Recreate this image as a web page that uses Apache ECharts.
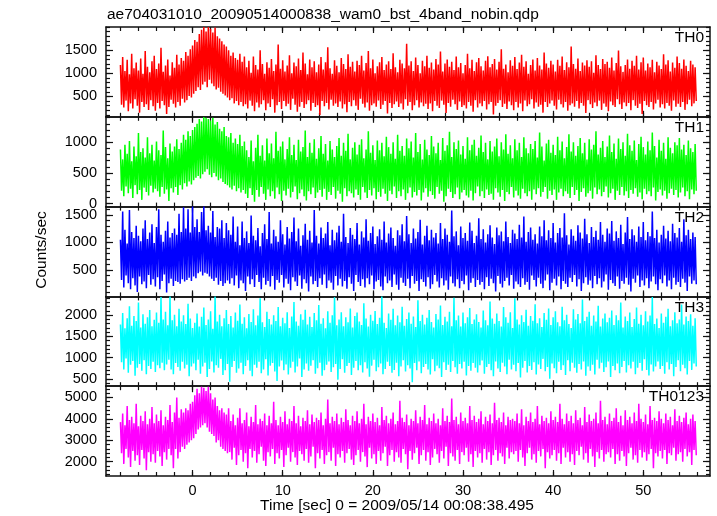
<!DOCTYPE html>
<html><head><meta charset="utf-8">
<script src="https://cdn.jsdelivr.net/npm/echarts@6/dist/echarts.min.js"></script>
<style>html,body{margin:0;padding:0;background:#fff}#c{width:717px;height:516px}</style>
</head><body><div id="c"></div>
<script>
// ---- data (counts/sec); bins start at T0 and are DT seconds apart ----
const T0 = -8, DT = 0.125;
const th0 = [
1180,320,1350,260,1050,410,1290,180,980,350,1420,240,1110,440,1230,300,
1060,150,1320,380,990,270,1480,330,1140,210,1020,420,1260,290,1380,190,
1090,360,1210,240,1550,400,1030,310,1170,120,1300,270,950,430,1240,340,
1120,260,1400,380,1190,300,1330,450,1270,370,1460,420,1380,510,1520,480,
1600,560,1720,620,1680,700,1850,640,1940,760,2000,820,1900,700,2000,860,
1960,780,1880,720,1990,650,1800,690,1750,600,1690,560,1620,520,1580,480,
1500,420,1380,460,1450,350,1330,400,1290,310,1420,380,1250,290,1360,330,
1130,240,1270,410,1010,300,1360,180,1180,370,1080,260,1500,330,1200,420,
990,200,1240,350,1120,270,1310,440,1050,150,1190,310,1620,380,1100,230,
1280,400,1040,290,1170,340,1390,210,1000,450,1230,320,1150,170,1320,280,
1070,380,1450,250,1210,330,980,420,1300,190,1130,360,1260,270,1020,310,
1190,100,1350,400,1080,290,1240,360,1560,220,1110,430,990,300,1280,350,
1160,270,1020,390,1330,240,1200,330,1090,160,1410,380,1140,290,1250,420,
1040,300,1270,210,1180,450,1380,340,1060,260,1220,370,1480,190,1110,310,
1300,350,1000,280,1150,410,1240,230,1350,320,1070,400,1190,130,1260,360,
1090,250,1430,330,1130,390,1020,270,1290,350,1210,220,1110,440,1640,300,
1170,380,1260,200,1050,310,1340,420,1180,260,1000,370,1270,290,1150,340,
1380,230,1120,350,1230,180,1080,400,1310,300,1190,250,1470,410,1040,320,
1210,140,1300,360,1140,280,1250,430,1070,330,1360,210,1130,390,1220,270,
1000,310,1180,240,1420,380,1110,300,1290,170,1050,420,1240,260,1330,350,
1150,290,1060,400,1270,220,1370,330,1130,380,1200,110,1310,300,1080,360,
1250,420,1520,270,1100,340,1190,230,1020,390,1280,310,1160,200,1350,380,
1090,260,1230,350,1400,180,1140,410,1260,290,990,330,1180,440,1300,240,
1060,370,1330,280,1170,320,1080,150,1450,380,1210,270,1120,350,1270,410,
1190,300,1040,220,1290,430,1160,330,1360,260,1070,380,1240,190,1130,310,
1580,350,1200,280,1100,400,1320,240,1050,360,1230,300,1170,140,1280,420,
1140,330,1260,250,1010,370,1390,290,1180,410,1090,210,1310,350,1200,280,
1250,180,1120,390,1340,310,1060,270,1220,440,1490,330,1150,230,1030,370,
1180,290,1300,360,1100,200,1270,420,1160,300,1380,250,1080,340,1240,120,
1340,400,1060,310,1210,270,1130,380,1290,220,1020,350,1250,430,1170,260,
1090,330,1410,240,1190,360,1280,300,1040,190,1230,410,1120,280,1360,340,
1220,270,1100,380,1300,210,1160,330,1050,430,1270,290,1190,350,1130,400];
const th1 = [
880,210,720,120,960,280,810,170,1020,240,690,90,930,300,770,150,
1150,220,840,60,900,260,750,190,1080,130,820,290,960,180,700,240,
1010,200,870,110,790,270,1190,160,920,230,740,40,980,250,850,180,
930,270,1050,140,890,300,990,230,1120,330,1040,280,1180,360,1100,310,
1200,380,1250,420,1300,450,1380,410,1340,480,1410,520,1400,560,1380,470,
1350,430,1400,500,1290,440,1330,380,1220,410,1180,350,1250,320,1100,300,
1080,260,1150,230,990,290,1060,200,970,250,1120,180,940,220,1010,160,
870,90,760,250,1030,140,690,30,910,220,1120,110,780,270,950,160,
700,60,1060,230,820,120,980,200,740,80,1170,260,860,150,930,40,
1010,210,720,130,890,240,1080,100,790,190,960,280,710,70,1040,170,
850,230,920,120,1190,50,760,200,990,150,830,260,1050,90,730,180,
900,220,1100,110,810,240,970,60,700,190,1020,140,880,270,760,80,
940,210,1070,160,780,30,990,250,860,120,1140,200,720,170,910,100,
1000,230,800,140,960,60,1050,270,740,180,880,90,1180,220,830,130,
950,250,710,70,1030,190,870,110,990,240,770,160,1090,40,920,210,
810,150,1000,280,730,90,1120,200,860,120,940,230,780,60,1060,170,
900,260,1010,100,750,190,1150,130,840,220,970,50,720,180,1040,250,
880,110,790,200,1100,140,930,80,820,270,990,160,710,210,1070,30,
860,120,950,240,1170,190,760,90,1000,150,890,260,1030,70,800,180,
940,220,730,130,1080,100,870,210,960,50,1040,170,780,280,910,120,
1110,200,840,90,990,230,720,140,1020,160,850,60,930,250,1060,180,
770,110,1000,220,880,40,1130,190,810,150,950,270,740,100,1050,210,
870,130,990,80,760,240,1080,170,900,120,820,200,970,60,890,230,
1020,150,750,250,1160,110,930,190,700,270,980,80,1040,210,830,140,
960,230,790,60,1090,180,870,240,1010,120,740,200,920,160,1130,90,
850,270,1000,140,780,220,940,40,1070,190,820,250,990,110,720,170,
1050,210,880,80,960,260,1180,150,800,230,910,120,1020,190,760,280,
930,100,1110,170,840,240,980,60,730,210,1060,140,890,270,1000,130,
780,200,1140,90,950,220,860,160,1030,250,710,110,970,180,1090,70,
920,240,800,150,1010,200,870,120,1160,260,940,50,750,190,1040,230,
860,130,990,210,730,80,1080,170,910,240,820,140,1000,220,950,100,
1070,180,880,260,960,120,790,200,1030,70,900,230,840,150,970,210];
const th2 = [
1050,320,1560,180,1230,400,980,260,1590,150,1190,350,1080,220,1300,100,
1120,380,1020,240,1250,290,1400,170,1060,410,1180,230,1330,330,990,200,
1280,370,1600,150,1140,300,1010,420,1210,90,1380,260,1090,340,1170,210,
1250,300,1140,280,1520,250,1190,330,1640,290,1250,320,1600,360,1180,300,
1650,380,1280,350,1420,440,1190,470,1550,400,1650,450,1220,430,1300,380,
1180,340,1570,300,1100,360,1280,230,1250,300,1400,210,1080,260,1350,310,
1220,250,1140,350,1470,220,1010,400,1290,170,950,310,1380,260,1080,120,
1200,380,990,240,1490,330,1120,190,1040,410,1260,280,930,150,1170,360,
1330,230,1060,300,1550,200,980,390,1230,140,1110,320,1010,270,1400,410,
1150,180,960,340,1280,250,1070,130,1190,370,1450,290,1020,210,1250,400,
940,160,1130,330,1340,260,1050,110,1210,380,1000,240,1590,300,1120,190,
980,350,1270,230,1080,420,1160,170,1370,310,950,270,1230,140,1040,390,
1180,220,1300,340,1010,200,1520,300,1100,160,990,370,1260,250,1140,120,
1060,410,1350,280,960,210,1200,330,1090,180,1420,350,1030,240,1170,400,
1290,150,970,290,1110,320,1240,200,1050,130,1380,380,1000,260,1160,310,
1270,190,1080,420,940,230,1220,140,1130,360,1330,270,1020,210,1480,340,
1150,170,990,390,1250,250,1070,300,1190,120,1410,330,960,280,1120,200,
1300,370,1040,160,1230,240,1090,410,1170,290,980,180,1350,350,1060,220,
1250,310,1140,140,1010,380,1580,260,1110,200,1200,330,950,170,1290,300,
1080,240,1170,400,1030,130,1360,270,1210,350,990,190,1120,320,1440,230,
1060,280,1240,150,1000,370,1150,210,1310,340,1090,260,970,110,1270,390,
1130,250,1200,180,1020,300,1380,360,1100,220,990,410,1230,160,1160,290,
1060,240,1320,190,1090,350,1470,230,1010,280,1190,140,1270,400,1050,320,
1150,200,980,360,1290,250,1110,170,1400,310,1040,420,1220,130,1080,270,
1350,340,1000,220,1170,380,1260,150,1090,300,1530,250,1130,190,960,360,
1240,280,1120,410,1030,200,1310,330,1180,120,1070,260,1430,370,1150,230,
990,310,1280,170,1100,390,1210,240,1050,350,1370,180,1140,290,1010,420,
1250,140,1160,320,1390,260,1030,210,1200,380,1080,160,1320,300,970,250,
1180,360,1460,230,1060,110,1240,340,1130,270,1010,400,1290,190,1100,310,
1370,220,1040,350,1190,170,1110,290,1560,380,1080,240,1230,130,1000,330,
1140,260,1300,400,1070,200,1210,310,1020,150,1340,360,1170,230,1090,280,
1260,190,1010,340,1420,270,1130,120,1230,380,1060,250,1180,310,1100,240];
const th3 = [
1780,890,2050,720,1690,980,1930,640,2210,830,1750,920,1980,570,1860,760,
2300,850,1710,690,2020,940,1800,610,1950,800,2120,730,1740,900,1890,660,
2060,820,1820,750,2430,880,1900,700,2080,840,1760,950,2440,720,1880,610,
2010,870,1740,780,2150,690,1850,900,2000,740,1790,830,2270,560,1920,790,
1700,860,1820,700,2040,950,1730,620,1960,790,2180,880,1770,540,1900,730,
2090,910,1680,650,2440,820,1850,760,2010,970,1740,590,1930,700,2120,850,
1790,430,1980,780,1710,920,2060,640,1870,740,2250,880,1800,610,1950,800,
1690,940,2030,690,1840,560,2140,830,1760,760,1990,900,2400,630,1830,720,
1720,960,2080,580,1910,810,1780,870,2000,670,1860,450,2190,790,1740,930,
1940,700,1810,840,2070,600,1700,760,1970,900,2310,650,1850,790,1750,980,
2020,540,1890,720,2130,860,1780,690,1960,810,1720,940,2050,620,1880,750,
2240,880,1800,570,1930,700,1690,830,2090,910,1820,660,2000,770,2420,850,
1760,480,1900,730,2070,960,1740,640,1950,800,1830,870,2160,590,1710,760,
1980,920,2060,700,1850,820,1770,650,2280,890,1920,740,1730,550,2010,810,
1870,950,2100,680,1790,770,1940,860,2440,610,1820,730,1700,900,2040,800,
1890,640,2150,710,1760,880,1990,560,1830,790,2200,940,1750,670,1910,820,
2060,740,1800,420,1970,870,1720,700,2350,910,1860,630,2010,780,1780,850,
1940,720,2120,600,1840,960,1710,680,2030,810,1900,750,2230,540,1770,890,
1960,710,1850,830,2080,660,1740,920,2410,770,1880,620,1990,850,1730,740,
2060,900,1810,580,1950,800,2170,690,1790,870,1900,760,2020,650,1840,820,
1710,930,2110,620,1880,780,1760,850,2320,700,1920,560,1800,910,2040,740,
1860,660,1730,880,2190,790,1950,610,1820,950,2070,720,1700,830,2400,680,
1900,870,1780,530,2000,760,1840,920,2130,650,1750,800,1980,710,1870,890,
2260,600,1810,840,1930,730,1720,970,2050,680,1890,780,2160,500,1770,860,
1950,750,2090,630,1830,900,1740,710,2200,820,1880,590,2010,940,1790,680,
1700,880,2140,760,1900,640,2030,850,1810,720,2370,910,1860,570,1960,790,
2080,690,1750,830,1990,600,1850,950,2220,740,1730,880,1920,660,2040,770,
1830,910,1940,540,2110,800,1770,700,2000,860,1880,630,2300,780,1710,920,
1970,650,1860,820,2060,740,1720,900,1910,610,2180,760,1800,870,2010,690,
1760,960,2090,710,1850,580,1990,840,2430,670,1790,790,1920,910,1700,730,
2040,800,1820,620,1960,890,2150,720,1740,850,1880,560,2070,780,1810,940,
1900,680,2250,830,1780,750,1970,600,1860,920,2020,710,1750,860,1930,790];
const th0123 = [
3850,2400,4250,1900,3700,2600,4600,2200,3950,1750,4100,2500,3800,2050,4700,2300,
3650,1850,4150,2550,3900,2150,4350,1600,3750,2450,4000,2000,4550,2350,3800,1950,
4200,2500,3900,2250,4400,1800,3700,2450,4100,2100,3950,2600,4650,2300,3850,1700,
4300,2600,5000,2150,4050,2450,4450,2700,4300,2600,4500,2800,4400,2900,4700,3000,
4800,3100,5100,3300,5400,3500,5200,3600,5500,3700,5450,3800,5300,3600,5500,3400,
5200,3300,4900,3200,5000,2900,4600,3000,4400,2700,4500,2600,4300,2500,4200,2400,
4500,2450,3900,2100,4200,2650,3700,1850,4050,2300,4500,2550,3800,2000,3950,2400,
4300,1700,3650,2600,4100,2200,3850,2500,4650,1950,3750,2350,4000,2700,3900,2050,
4250,1800,3700,2450,4150,2250,3800,2600,4800,1900,3950,2400,3700,2150,4100,2550,
3850,1750,4350,2300,3750,2650,4000,2000,3900,2450,4600,2200,3800,1850,4150,2500,
3650,2350,4050,2050,3900,2600,4400,1950,3750,2250,4200,2700,3850,1700,4050,2400,
3950,2150,4300,2550,3700,1900,4000,2300,4900,2450,3800,2050,4100,2650,3900,1800,
4250,2350,3750,2200,4050,2500,3850,1950,4450,2400,3950,2600,3700,2100,4150,1850,
3900,2300,4350,2550,3800,2000,4000,2450,4700,2250,3750,1750,4100,2650,3900,2150,
4250,2350,3850,1900,4050,2500,3700,2050,4550,2400,3950,2700,4150,1800,3800,2300,
4000,2550,4300,2000,3750,2450,3900,2200,4850,1950,4050,2600,3850,2350,4200,1650,
3700,2500,4000,2100,3900,2400,4400,2650,3800,1900,4100,2300,3950,2550,4650,2050,
3750,2450,4050,1850,3900,2200,4250,2600,3800,2350,4000,1950,3700,2500,4500,2150,
3900,2700,4150,1800,3850,2400,4950,2250,3950,2050,4100,2550,3750,1900,4300,2450,
3900,2300,4050,2650,3800,2000,4600,2350,3950,1750,4150,2500,3850,2200,4000,2400,
4350,1950,3750,2600,4100,2100,3900,2450,4200,1850,3800,2300,4750,2550,3950,2050,
4050,2400,3850,2250,4300,1900,3700,2650,4100,2150,3950,2450,4000,2350,3900,2500,
4250,2000,3800,2550,4450,2200,3700,1800,4100,2400,3900,2650,4300,2100,3850,2350,
4000,1950,4600,2500,3750,2250,4150,2600,3900,1700,4050,2450,3800,2150,4350,2300,
3950,2550,4100,2050,3850,2400,4700,1900,4000,2650,3750,2200,4250,2450,3900,2000,
4150,2350,3800,1850,4400,2500,3950,2300,4050,2700,3700,2100,4550,2400,3850,1950,
4200,2600,3900,2250,4000,1750,4300,2450,3800,2150,4850,2550,3950,2000,4100,2350,
3750,2450,4250,2200,3900,2600,4050,1900,4500,2350,3850,2050,4150,2500,3700,2250,
4400,1800,3950,2400,4100,2650,3800,2100,4300,2300,3900,1950,4700,2550,4000,2200,
3850,2450,4200,2050,3750,2350,4600,2600,3950,1700,4050,2400,3900,2250,4350,2500,
4000,2150,3800,2550,4250,1900,3950,2400,4100,2300,3700,2650,4450,2050,3900,2350,
4150,2450,3850,2000,4050,2600,4300,2250,3750,2450,4000,1850,4200,2550,3900,2300];

const panelNames = ['TH0', 'TH1', 'TH2', 'TH3', 'TH0123'];
const panelData = [th0, th1, th2, th3, th0123];
const panelColors = ['#ff0000', '#00ff00', '#0000ff', '#00ffff', '#ff00ff'];
const yMin = [60, -50, 20, 325, 1335];
const yMax = [2000, 1415, 1650, 2443, 5525];
const yMajorTicks = [[500, 1000, 1500], [0, 500, 1000], [500, 1000, 1500], [500, 1000, 1500, 2000], [2000, 3000, 4000, 5000]];
const yMinorStep = [100, 100, 100, 100, 200];
const xMin = -9.6, xMax = 57.4;
const xMajorTicks = [0, 10, 20, 30, 40, 50];
const xMinorStep = 2;
const titleText = 'ae704031010_20090514000838_wam0_bst_4band_nobin.qdp';
const yTitle = 'Counts/sec';
const xTitle = 'Time [sec] 0 = 2009/05/14 00:08:38.495';

function stepValues(lo, hi, step) {
  const out = [];
  for (let v = Math.ceil(lo / step) * step; v <= hi + 1e-9; v += step) out.push(+v.toFixed(6));
  return out;
}
const plain = v => String(v);

const FONT = 'Liberation Sans';
const AX = '#111';
const top0 = 27, ph = 89.8;
const grids = [], xAxes = [], yAxes = [], series = [], graphics = [];
const xMinor = stepValues(xMin, xMax, xMinorStep);

for (let p = 0; p < 5; p++) {
  grids.push({ left: 106, right: 7, top: top0 + p * ph, height: ph });
  const last = p === 4;
  const lineOn = { show: true, onZero: false, lineStyle: { color: AX, width: 1.5 } };
  const lineOff = { show: false, onZero: false };
  const xb = { gridIndex: p, type: 'value', min: xMin, max: xMax, splitLine: { show: false } };
  xAxes.push(Object.assign({}, xb, { position: 'bottom', axisLine: lineOn,
    axisTick: { show: true, inside: true, length: 6, customValues: xMajorTicks, lineStyle: { color: AX, width: 1.2 } },
    axisLabel: { show: last, customValues: xMajorTicks, formatter: plain, color: '#000', fontSize: 14.5, fontFamily: FONT, margin: 7 } }));
  xAxes.push(Object.assign({}, xb, { position: 'bottom', axisLine: lineOff,
    axisTick: { show: true, inside: true, length: 4, customValues: xMinor, lineStyle: { color: AX, width: 1.2 } },
    axisLabel: { show: false } }));
  xAxes.push(Object.assign({}, xb, { position: 'top', axisLine: lineOn,
    axisTick: { show: true, inside: true, length: 6, customValues: xMajorTicks, lineStyle: { color: AX, width: 1.2 } },
    axisLabel: { show: false } }));
  xAxes.push(Object.assign({}, xb, { position: 'top', axisLine: lineOff,
    axisTick: { show: true, inside: true, length: 4, customValues: xMinor, lineStyle: { color: AX, width: 1.2 } },
    axisLabel: { show: false } }));
  const yb = { gridIndex: p, type: 'value', min: yMin[p], max: yMax[p], splitLine: { show: false } };
  const yMinor = stepValues(yMin[p], yMax[p], yMinorStep[p]);
  yAxes.push(Object.assign({}, yb, { position: 'left', axisLine: lineOn,
    axisTick: { show: true, inside: true, length: 7, customValues: yMajorTicks[p], lineStyle: { color: AX, width: 1.2 } },
    axisLabel: { show: true, customValues: yMajorTicks[p], formatter: plain, color: '#000', fontSize: 14.5, fontFamily: FONT, margin: 9 } }));
  yAxes.push(Object.assign({}, yb, { position: 'left', axisLine: lineOff,
    axisTick: { show: true, inside: true, length: 4, customValues: yMinor, lineStyle: { color: AX, width: 1.2 } },
    axisLabel: { show: false } }));
  yAxes.push(Object.assign({}, yb, { position: 'right', axisLine: lineOn,
    axisTick: { show: true, inside: true, length: 7, customValues: yMajorTicks[p], lineStyle: { color: AX, width: 1.2 } },
    axisLabel: { show: false } }));
  yAxes.push(Object.assign({}, yb, { position: 'right', axisLine: lineOff,
    axisTick: { show: true, inside: true, length: 4, customValues: yMinor, lineStyle: { color: AX, width: 1.2 } },
    axisLabel: { show: false } }));

  series.push({
    type: 'line', xAxisIndex: 4 * p, yAxisIndex: 4 * p,
    data: panelData[p].map((v, i) => [T0 + i * DT, v]),
    symbol: 'none', showSymbol: false, silent: true, clip: true,
    lineStyle: { color: panelColors[p], width: 1.5, join: 'bevel' }, itemStyle: { color: panelColors[p] }
  });
  graphics.push({ type: 'text', x: 704, y: top0 + p * ph + 11, silent: true, z: 10,
    style: { text: panelNames[p], fill: '#000', font: '15.5px "' + FONT + '"', textAlign: 'right', textVerticalAlign: 'middle' } });
}

graphics.push({ type: 'text', x: 107, y: 15, silent: true,
  style: { text: titleText, fill: '#000', font: '15.5px "' + FONT + '"', textAlign: 'left', textVerticalAlign: 'middle' } });
graphics.push({ type: 'text', x: 42, y: 250, rotation: Math.PI / 2, silent: true,
  style: { text: yTitle, fill: '#000', font: '15.5px "' + FONT + '"', textAlign: 'center', textVerticalAlign: 'middle' } });
graphics.push({ type: 'text', x: 397, y: 506, silent: true,
  style: { text: xTitle, fill: '#000', font: '15.5px "' + FONT + '"', textAlign: 'center', textVerticalAlign: 'middle' } });

const chart = echarts.init(document.getElementById('c'), null, { renderer: 'canvas' });
chart.setOption({
  animation: false,
  backgroundColor: '#fff',
  grid: grids, xAxis: xAxes, yAxis: yAxes, series: series, graphic: graphics
});
</script></body></html>
